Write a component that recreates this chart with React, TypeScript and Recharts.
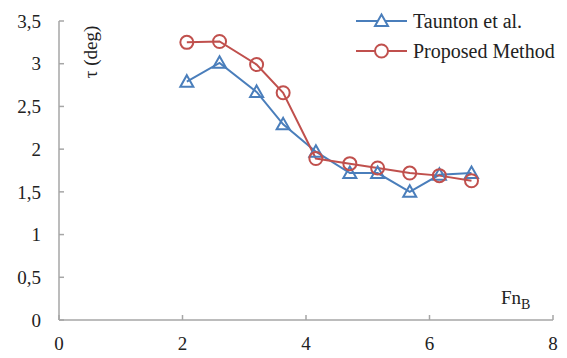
import { LineChart, Line, XAxis, YAxis, Customized } from "recharts";

const fnB = [2.07, 2.6, 3.2, 3.63, 4.16, 4.71, 5.16, 5.68, 6.16, 6.68];
const taunton = [2.79, 3.01, 2.67, 2.29, 1.97, 1.72, 1.72, 1.5, 1.7, 1.72];
const proposed = [3.25, 3.26, 2.99, 2.66, 1.89, 1.83, 1.78, 1.72, 1.69, 1.63];
const xTicks = [0, 2, 4, 6, 8];
const yTicks = [0, 0.5, 1, 1.5, 2, 2.5, 3, 3.5];

const data = fnB.map((x, i) => ({ x, taunton: taunton[i], proposed: proposed[i] }));

const BLUE = "#4a7ebb";
const RED = "#c0504d";
const AXIS = "#a6a6a6";
const FONT = "Liberation Serif";

const triPath = (cx: number, cy: number) =>
    `M${cx},${cy - 6.5} L${cx + 6.5},${cy + 5} L${cx - 6.5},${cy + 5} Z`;

const TriangleDot = (props: any) => {
    const { cx, cy, index } = props;
    if (cx == null || cy == null) return null;
    return <path key={`t-${index}`} d={triPath(cx, cy)} fill="none" stroke={BLUE} strokeWidth={2} />;
};

const CircleDot = (props: any) => {
    const { cx, cy, index } = props;
    if (cx == null || cy == null) return null;
    return <circle key={`c-${index}`} cx={cx} cy={cy} r={6.5} fill="none" stroke={RED} strokeWidth={2} />;
};

const renderXTick = ({ x, y, payload }: any) => (
    <text x={x} y={y} dy="0.71em" textAnchor="middle" style={{ fontFamily: FONT, fontSize: 19 }} fill="#222">
        {payload.value}
    </text>
);

const renderYTick = ({ x, y, payload }: any) => (
    <text x={x} y={y} dy="0.35em" textAnchor="end" style={{ fontFamily: FONT, fontSize: 19 }} fill="#222">
        {String(payload.value).replace(".", ",")}
    </text>
);

// legend + axis titles drawn on top of the plot
const Overlay = () => (
    <g style={{ fontFamily: FONT }} fill="#222">
        <g transform="translate(356,0)">
            <line x1={0} x2={51} y1={21} y2={21} stroke={BLUE} strokeWidth={2} />
            <path d={triPath(25.5, 21)} fill="white" stroke={BLUE} strokeWidth={2} />
            <text x={57} y={27.5} fontSize={20}>Taunton et al.</text>
            <line x1={0} x2={51} y1={51} y2={51} stroke={RED} strokeWidth={2} />
            <circle cx={25.5} cy={51} r={6.5} fill="white" stroke={RED} strokeWidth={2} />
            <text x={57} y={57.5} fontSize={20}>Proposed Method</text>
        </g>
        <text x={0} y={0} fontSize={19} textAnchor="middle" transform="translate(97,52) rotate(-90)">
            τ (deg)
        </text>
        <text x={501} y={304} fontSize={19}>
            Fn<tspan fontSize={14} dy={5}>B</tspan>
        </text>
    </g>
);

export default function App() {
    return (
        <div style={{ position: "absolute", left: 0, top: 0, background: "#fff", fontFamily: FONT }}>
            <LineChart
                width={567}
                height={358}
                data={data}
                margin={{ top: 21, right: 14, left: 0, bottom: 0 }}
                style={{ fontFamily: FONT }}
            >
                <XAxis
                    type="number"
                    dataKey="x"
                    domain={[0, 8]}
                    ticks={xTicks}
                    height={38}
                    stroke={AXIS}
                    strokeWidth={1.5}
                    tickSize={-5}
                    tickMargin={22}
                    tick={renderXTick}
                />
                <YAxis
                    type="number"
                    domain={[0, 3.5]}
                    ticks={yTicks}
                    width={59}
                    stroke={AXIS}
                    strokeWidth={1.5}
                    tickSize={-5}
                    tickMargin={23}
                    tick={renderYTick}
                />
                <Line
                    dataKey="taunton"
                    stroke={BLUE}
                    strokeWidth={2}
                    dot={<TriangleDot />}
                    isAnimationActive={false}
                />
                <Line
                    dataKey="proposed"
                    stroke={RED}
                    strokeWidth={2}
                    dot={<CircleDot />}
                    isAnimationActive={false}
                />
                <Customized component={<Overlay />} />
            </LineChart>
        </div>
    );
}
